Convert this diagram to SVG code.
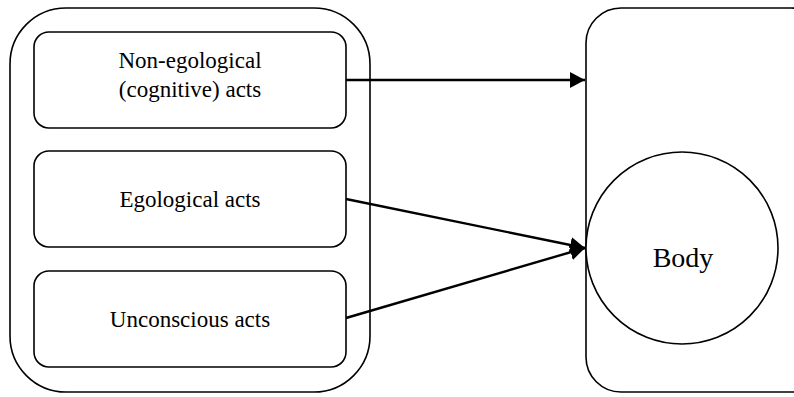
<svg xmlns="http://www.w3.org/2000/svg" width="794" height="397" viewBox="0 0 794 397">
<defs>
<style>
.box{fill:#fff;stroke:#000;stroke-width:1.6}
.lbl{font-family:"Liberation Serif","Times New Roman",serif;font-size:23px;fill:#000;text-anchor:middle}
.conn{stroke:#000;stroke-width:2.4;fill:none;marker-end:url(#ah)}
</style>
<marker id="ah" markerWidth="16" markerHeight="16" refX="15" refY="8" orient="auto" markerUnits="userSpaceOnUse">
<path d="M0,0 L15,8 L0,16 Z" fill="#000"/>
</marker>
</defs>
<rect width="794" height="397" fill="#fff"/>
<g id="mind">
<rect class="box" x="10" y="8" width="360" height="384" rx="56" ry="56"/>
</g>
<g id="bodybox">
<rect class="box" x="586" y="8" width="240" height="384" rx="35" ry="35"/>
</g>
<g id="nonegological">
<rect class="box" x="34" y="32" width="312" height="96" rx="15" ry="15"/>
<text class="lbl" x="190" y="68">Non-egological</text>
<text class="lbl" x="190" y="97">(cognitive) acts</text>
</g>
<g id="egological">
<rect class="box" x="34" y="151" width="312" height="96" rx="15" ry="15"/>
<text class="lbl" x="190" y="207">Egological acts</text>
</g>
<g id="unconscious">
<rect class="box" x="34" y="271" width="312" height="96" rx="15" ry="15"/>
<text class="lbl" x="190" y="327">Unconscious acts</text>
</g>
<g id="body">
<circle class="box" cx="682" cy="248" r="96"/>
<text class="lbl" x="683" y="267" style="font-size:28px">Body</text>
</g>
<g id="connectors">
<line class="conn" x1="346" y1="80" x2="585" y2="80"/>
<line class="conn" x1="346" y1="199" x2="585" y2="248"/>
<line class="conn" x1="346" y1="318" x2="585" y2="248"/>
</g>
</svg>
